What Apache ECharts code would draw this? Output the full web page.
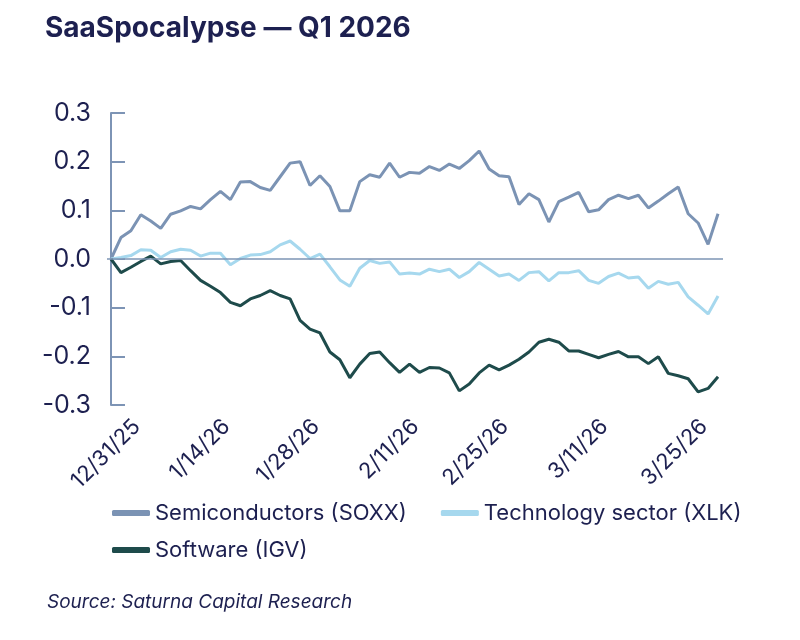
<!DOCTYPE html>
<html>
<head>
<meta charset="utf-8">
<style>
  html, body { margin: 0; padding: 0; background: #fff; }
  #chart { width: 800px; height: 640px; }
</style>
<script src="https://cdn.jsdelivr.net/npm/echarts@6.0.0/dist/echarts.min.js"></script>
</head>
<body>
<div id="chart"></div>
<script>
// trading days, Q1 2026
var dates = ['12/31/25',
  '1/2/26','1/5/26','1/6/26','1/7/26','1/8/26','1/9/26','1/12/26','1/13/26','1/14/26','1/15/26',
  '1/16/26','1/20/26','1/21/26','1/22/26','1/23/26','1/26/26','1/27/26','1/28/26','1/29/26','1/30/26',
  '2/2/26','2/3/26','2/4/26','2/5/26','2/6/26','2/9/26','2/10/26','2/11/26','2/12/26','2/13/26',
  '2/17/26','2/18/26','2/19/26','2/20/26','2/23/26','2/24/26','2/25/26','2/26/26','2/27/26',
  '3/2/26','3/3/26','3/4/26','3/5/26','3/6/26','3/9/26','3/10/26','3/11/26','3/12/26','3/13/26',
  '3/16/26','3/17/26','3/18/26','3/19/26','3/20/26','3/23/26','3/24/26','3/25/26','3/26/26','3/27/26',
  '3/30/26','3/31/26'];

// positions (in dates) that get a label
var labelIdx = [0, 9, 18, 28, 37, 47, 57];

var soxx = [0, 0.044, 0.058, 0.091, 0.078, 0.063, 0.092, 0.099, 0.108, 0.103,
  0.122, 0.139, 0.122, 0.158, 0.159, 0.147, 0.141, 0.169, 0.197, 0.200,
  0.151, 0.171, 0.149, 0.099, 0.099, 0.159, 0.173, 0.168, 0.197, 0.168,
  0.178, 0.176, 0.190, 0.182, 0.195, 0.186, 0.202, 0.222, 0.185, 0.171,
  0.169, 0.112, 0.134, 0.122, 0.076, 0.118, 0.127, 0.137, 0.097, 0.101,
  0.122, 0.131, 0.124, 0.131, 0.105, 0.119, 0.134, 0.148, 0.093, 0.074,
  0.030, 0.093];

var xlk = [0, 0.003, 0.007, 0.019, 0.018, 0.003, 0.015, 0.020, 0.018, 0.006,
  0.012, 0.012, -0.012, 0.001, 0.008, 0.009, 0.015, 0.029, 0.037, 0.020,
  0.001, 0.010, -0.016, -0.043, -0.056, -0.019, -0.003, -0.009, -0.006, -0.031,
  -0.029, -0.031, -0.021, -0.026, -0.021, -0.038, -0.026, -0.007, -0.021, -0.035,
  -0.031, -0.044, -0.028, -0.026, -0.045, -0.028, -0.028, -0.024, -0.044, -0.050,
  -0.036, -0.029, -0.039, -0.037, -0.060, -0.046, -0.052, -0.048, -0.078, -0.095,
  -0.113, -0.076];

var igv = [0, -0.028, -0.017, -0.005, 0.006, -0.010, -0.005, -0.003, -0.024, -0.044,
  -0.056, -0.069, -0.089, -0.096, -0.082, -0.075, -0.065, -0.075, -0.082, -0.126,
  -0.144, -0.152, -0.191, -0.207, -0.244, -0.216, -0.194, -0.191, -0.213, -0.233,
  -0.216, -0.233, -0.223, -0.224, -0.234, -0.271, -0.257, -0.234, -0.218, -0.228,
  -0.218, -0.206, -0.191, -0.171, -0.165, -0.171, -0.189, -0.189, -0.196, -0.203,
  -0.196, -0.190, -0.201, -0.201, -0.215, -0.201, -0.235, -0.240, -0.246, -0.273,
  -0.266, -0.242];

var names = ['Semiconductors (SOXX)', 'Technology sector (XLK)', 'Software (IGV)'];
var colors = ['#7b93b4', '#a6d8ee', '#1e4b4b'];

var ink = '#1d2050';
var axisColor = '#7d94b5';
var font = 'Inter, "Noto Sans", sans-serif';

// the rotated date labels sit a little right of their day in the original
var labelShift = 2.6;

function pairs(arr) {
  return arr.map(function (v, i) { return [i, v]; });
}

var chart = echarts.init(document.getElementById('chart'));

var legendCommon = {
  left: 107,
  icon: 'roundRect',
  itemWidth: 38,
  itemHeight: 6,
  itemGap: 34,
  textStyle: { fontSize: 22, color: ink, fontFamily: font }
};

var option = {
  animation: false,
  color: colors,
  title: [{
    text: 'SaaSpocalypse — Q1 2026',
    left: 40,
    top: 10,
    textStyle: { fontSize: 28, fontWeight: 700, color: ink, fontFamily: font }
  }, {
    text: 'Source: Saturna Capital Research',
    left: 42,
    top: 588,
    textStyle: { fontSize: 19, fontWeight: 400, fontStyle: 'italic', color: ink, fontFamily: font }
  }],
  legend: [
    Object.assign({ top: 497, data: [names[0], names[1]] }, legendCommon),
    Object.assign({ top: 534, data: [names[2]] }, legendCommon)
  ],
  grid: { left: 107, right: 77, top: 113, bottom: 235 },
  xAxis: {
    type: 'value',
    min: -0.4,
    max: 61.5,
    axisLine: { show: false },
    axisTick: { show: false },
    splitLine: { show: false },
    axisLabel: {
      customValues: labelIdx.map(function (i) { return i + labelShift; }),
      formatter: function (v) { return dates[Math.round(v - labelShift)]; },
      showMinLabel: true,
      showMaxLabel: true,
      rotate: 45,
      margin: 18,
      fontSize: 22,
      color: ink,
      fontFamily: font
    }
  },
  yAxis: {
    type: 'value',
    min: -0.3,
    max: 0.3,
    interval: 0.1,
    axisLine: { show: true, lineStyle: { color: axisColor, width: 2 } },
    axisTick: { show: true, inside: true, length: 14, lineStyle: { color: axisColor, width: 2 } },
    splitLine: { show: false },
    axisLabel: {
      formatter: function (v) { return v.toFixed(1); },
      margin: 16,
      fontSize: 25,
      color: ink,
      fontFamily: font
    }
  },
  series: [{
    name: names[0],
    type: 'line',
    data: pairs(soxx),
    showSymbol: false,
    lineStyle: { width: 3 },
    markLine: {
      silent: true,
      symbol: 'none',
      label: { show: false },
      lineStyle: { color: axisColor, width: 1.5, type: 'solid' },
      data: [{ yAxis: 0 }]
    }
  }, {
    name: names[1],
    type: 'line',
    data: pairs(xlk),
    showSymbol: false,
    lineStyle: { width: 3 }
  }, {
    name: names[2],
    type: 'line',
    data: pairs(igv),
    showSymbol: false,
    lineStyle: { width: 3 }
  }]
};

chart.setOption(option);
</script>
</body>
</html>
